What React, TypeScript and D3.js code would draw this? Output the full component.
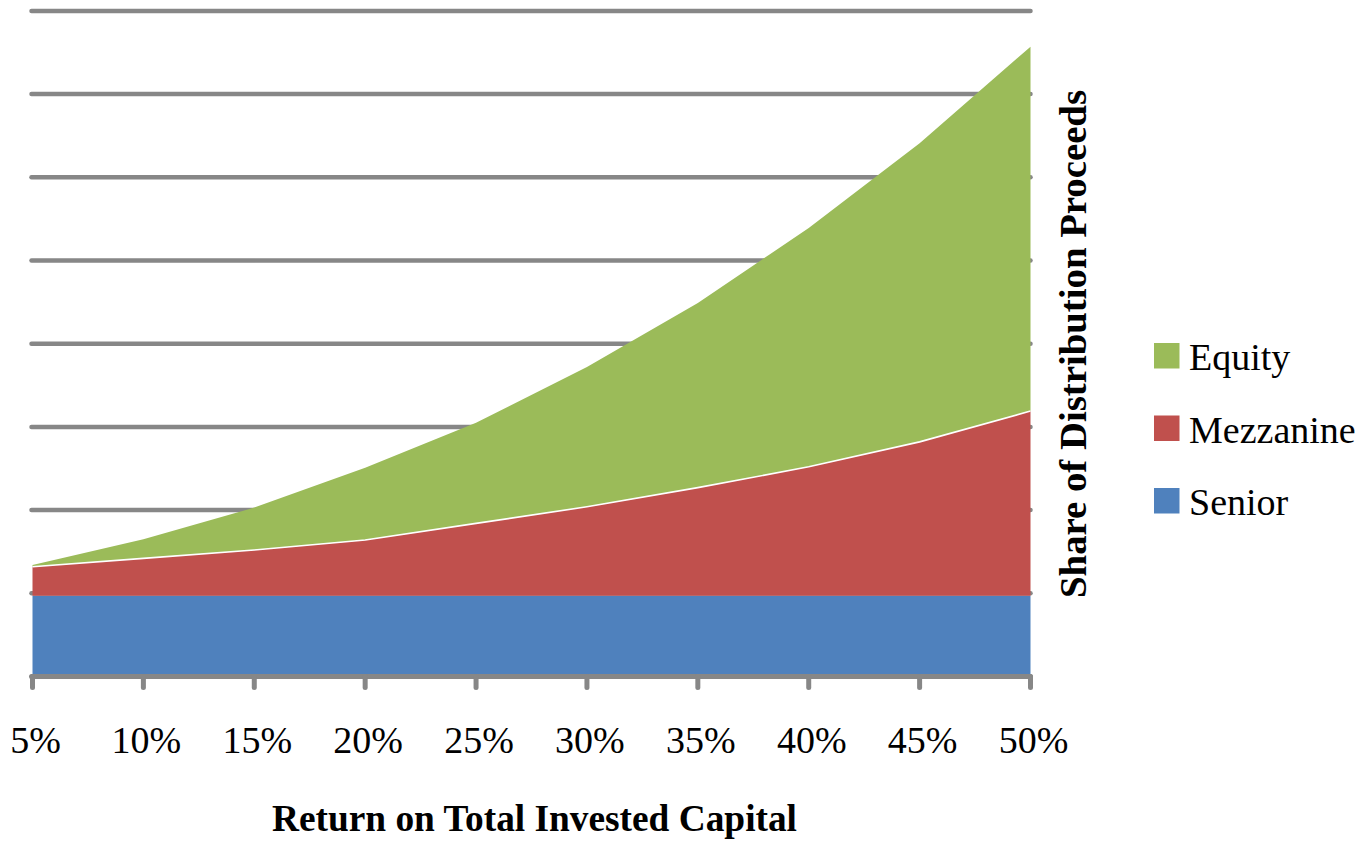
import React from "react";
import * as d3 from "d3";

const categories = ["5%", "10%", "15%", "20%", "25%", "30%", "35%", "40%", "45%", "50%"];
const senior = [0.97, 0.97, 0.97, 0.97, 0.97, 0.97, 0.97, 0.97, 0.97, 0.97];
const mezzanine = [0.35, 0.45, 0.55, 0.67, 0.87, 1.07, 1.3, 1.55, 1.85, 2.22];
const equity = [0.02, 0.23, 0.51, 0.87, 1.21, 1.68, 2.22, 2.87, 3.59, 4.38];
const gridValues = [1, 2, 3, 4, 5, 6, 7, 8];
const seriesNames = ["Senior", "Mezzanine", "Equity"];
const legendOrder = ["Equity", "Mezzanine", "Senior"];

const COLORS: Record<string, string> = {
  Senior: "#4F81BD",
  Mezzanine: "#C0504D",
  Equity: "#9BBB59",
};

const FONT = "'Liberation Serif', 'Times New Roman', Times, serif";

export default function App() {
  const W = 1369;
  const H = 847;
  const x0 = 32.5;
  const x1 = 1030.5;
  const yBase = 676.5;
  const yTop = 10.9;

  const x = d3.scalePoint<string>().domain(categories).range([x0, x1]).padding(0);
  const y = d3.scaleLinear().domain([0, 8]).range([yBase, yTop]);

  const rows = categories.map((c, i) => ({
    cat: c,
    Senior: senior[i],
    Mezzanine: mezzanine[i],
    Equity: equity[i],
  }));
  const stacked = d3.stack<any>().keys(seriesNames)(rows);

  const area = d3
    .area<any>()
    .x((d) => x(d.data.cat) as number)
    .y0((d) => y(d[0]))
    .y1((d) => y(d[1]));

  const topLine = d3
    .line<any>()
    .x((d) => x(d.data.cat) as number)
    .y((d) => y(d[1]));

  const mezzLayer = stacked[1];

  return (
    <svg
      width={W}
      height={H}
      style={{ position: "absolute", left: 0, top: 0, background: "#fff" }}
    >
      {/* gridlines */}
      {gridValues.map((g) => (
        <line
          key={g}
          x1={x0 - 1}
          x2={x1}
          y1={y(g)}
          y2={y(g)}
          stroke="#878787"
          strokeWidth={4.5}
          strokeLinecap="round"
        />
      ))}
      {/* areas */}
      {stacked.map((s) => (
        <path key={s.key} d={area(s) || ""} fill={COLORS[s.key]} />
      ))}
      <path d={topLine(mezzLayer) || ""} fill="none" stroke="#fff" strokeWidth={1.6} />
      {/* x axis */}
      <line
        x1={x0 - 1}
        x2={x1}
        y1={yBase}
        y2={yBase}
        stroke="#878787"
        strokeWidth={5}
        strokeLinecap="round"
      />
      {categories.map((c) => (
        <line
          key={c}
          x1={x(c)}
          x2={x(c)}
          y1={yBase}
          y2={yBase + 11}
          stroke="#878787"
          strokeWidth={5}
          strokeLinecap="round"
        />
      ))}
      {categories.map((c) => (
        <text
          key={"t" + c}
          x={(x(c) as number) + 3}
          y={753}
          textAnchor="middle"
          fontFamily={FONT}
          fontSize={38}
          fill="#000"
        >
          {c}
        </text>
      ))}
      {/* axis titles */}
      <text
        x={534.5}
        y={831}
        textAnchor="middle"
        fontFamily={FONT}
        fontSize={37}
        fontWeight="bold"
        fill="#000"
        textLength={525}
        lengthAdjust="spacingAndGlyphs"
      >
        Return on Total Invested Capital
      </text>
      <text
        transform={`translate(1086, 344) rotate(-90)`}
        x={0}
        y={0}
        textAnchor="middle"
        fontFamily={FONT}
        fontSize={38}
        fontWeight="bold"
        fill="#000"
        textLength={508}
        lengthAdjust="spacingAndGlyphs"
      >
        Share of Distribution Proceeds
      </text>
      {/* legend */}
      {legendOrder.map((name, i) => (
        <g key={name} transform={`translate(1154, ${343 + i * 72.5})`}>
          <rect x={0} y={0} width={25.5} height={25.5} fill={COLORS[name]} />
          <text x={35} y={27} fontFamily={FONT} fontSize={38} fill="#000">
            {name}
          </text>
        </g>
      ))}
    </svg>
  );
}
